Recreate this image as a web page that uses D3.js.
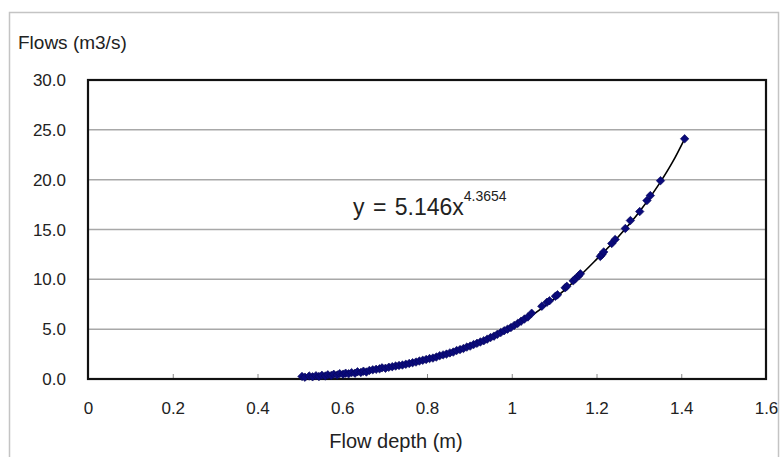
<!DOCTYPE html>
<html lang="en">
<head>
<meta charset="UTF-8">
<title>Flow depth vs flows</title>
<script src="https://d3js.org/d3.v7.min.js"></script>
<style>
  body { margin: 0; background: #fff; }
  text { font-family: "Liberation Sans", Arial, sans-serif; fill: #222; }
</style>
</head>
<body>
<div id="chart"></div>
<script>
// measured points: flow depth (m) and flow (m3/s)
const depth = [
  0.505, 0.512, 0.522, 0.530, 0.538, 0.545, 0.552, 0.560, 0.566, 0.574,
  0.580, 0.588, 0.594, 0.602, 0.608, 0.615, 0.622, 0.630, 0.636, 0.644,
  0.650, 0.657, 0.664, 0.672, 0.680, 0.688, 0.694, 0.702, 0.710, 0.718,
  0.726, 0.734, 0.742, 0.750, 0.758, 0.766, 0.774, 0.782, 0.790, 0.798,
  0.806, 0.814, 0.822, 0.830, 0.838, 0.846, 0.854, 0.862, 0.870, 0.878,
  0.886, 0.894, 0.902, 0.910, 0.918, 0.926, 0.934, 0.942, 0.950, 0.958,
  0.966, 0.974, 0.982, 0.990, 0.998, 1.006, 1.014, 1.022, 1.030, 1.038,
  1.047, 1.071, 1.083, 1.089, 1.103, 1.108, 1.126, 1.130, 1.145, 1.150,
  1.158, 1.162, 1.209, 1.213, 1.217, 1.236, 1.244, 1.268, 1.280, 1.302,
  1.319, 1.327, 1.351, 1.408
];
const flow = [
  0.26, 0.18, 0.30, 0.22, 0.33, 0.25, 0.37, 0.30, 0.42, 0.35,
  0.47, 0.40, 0.54, 0.48, 0.58, 0.52, 0.64, 0.58, 0.72, 0.66,
  0.78, 0.70, 0.86, 0.92, 0.97, 1.02, 1.12, 1.08, 1.18, 1.24,
  1.30, 1.36, 1.40, 1.48, 1.56, 1.63, 1.70, 1.80, 1.88, 1.96,
  2.05, 2.10, 2.20, 2.34, 2.42, 2.50, 2.62, 2.70, 2.86, 2.95,
  3.06, 3.20, 3.30, 3.46, 3.58, 3.72, 3.84, 4.00, 4.16, 4.30,
  4.48, 4.66, 4.84, 5.00, 5.16, 5.38, 5.58, 5.80, 6.02, 6.22,
  6.60, 7.30, 7.70, 7.85, 8.30, 8.45, 9.15, 9.30, 9.85, 10.05,
  10.35, 10.55, 12.30, 12.50, 12.75, 13.60, 14.00, 15.10, 15.90, 16.80,
  17.90, 18.40, 19.90, 24.10
];

// trendline
const trendX = [0.505, 0.6, 0.7, 0.8, 0.9, 1.0, 1.1, 1.15, 1.2, 1.25, 1.3, 1.35, 1.38, 1.408];
const trendY = [0.24, 0.58, 1.10, 1.95, 3.30, 5.15, 8.05, 9.90, 12.0, 14.2, 16.7, 19.7, 21.8, 24.1];

const xTicks = [0, 0.2, 0.4, 0.6, 0.8, 1, 1.2, 1.4, 1.6];
const yTicks = [0, 5, 10, 15, 20, 25, 30];

const W = 781, H = 457;
const plot = { left: 88, top: 80, right: 766, bottom: 379 };

const svg = d3.select("#chart").append("svg")
  .attr("width", W).attr("height", H);

// outer chart border
svg.append("rect")
  .attr("x", 9.5).attr("y", 12.5)
  .attr("width", 769).attr("height", 460)
  .attr("fill", "none").attr("stroke", "#c4c4c4").attr("stroke-width", 1.5);

const x = d3.scaleLinear().domain([0, 1.6]).range([plot.left, plot.right]);
const y = d3.scaleLinear().domain([0, 30]).range([plot.bottom, plot.top]);

// gridlines
svg.append("g").selectAll("line")
  .data(yTicks.slice(1, -1))
  .join("line")
  .attr("x1", plot.left).attr("x2", plot.right)
  .attr("y1", d => y(d)).attr("y2", d => y(d))
  .attr("stroke", "#a8a8a8").attr("stroke-width", 1.5);

// y tick labels
svg.append("g").selectAll("text")
  .data(yTicks)
  .join("text")
  .attr("x", 66).attr("y", d => y(d) + 6)
  .attr("text-anchor", "end")
  .attr("font-size", 17)
  .text(d => d.toFixed(1));

// x axis ticks (inside) + labels
const xAxis = d3.axisBottom(x).tickValues(xTicks).tickSize(-5).tickFormat(d3.format("~g"));
const gx = svg.append("g")
  .attr("transform", "translate(0," + plot.bottom + ")")
  .call(xAxis);
gx.select(".domain").remove();
gx.selectAll(".tick line").attr("stroke", "#888").attr("stroke-width", 1);
gx.selectAll(".tick text")
  .attr("y", 35).attr("dy", 0)
  .attr("font-size", 17)
  .attr("font-family", "Liberation Sans, Arial, sans-serif")
  .attr("fill", "#222");

// plot frame
svg.append("rect")
  .attr("x", plot.left).attr("y", plot.top)
  .attr("width", plot.right - plot.left).attr("height", plot.bottom - plot.top)
  .attr("fill", "none").attr("stroke", "#111").attr("stroke-width", 2.2);

// trend line
const trend = trendX.map((d, i) => ({ x: d, y: trendY[i] }));
svg.append("path")
  .datum(trend)
  .attr("fill", "none")
  .attr("stroke", "#000")
  .attr("stroke-width", 1.6)
  .attr("d", d3.line().x(d => x(d.x)).y(d => y(d.y)).curve(d3.curveMonotoneX));

// data markers (square turned 45 degrees)
const pts = depth.map((d, i) => ({ x: d, y: flow[i] }));
svg.append("g").selectAll("path")
  .data(pts)
  .join("path")
  .attr("transform", d => "translate(" + x(d.x) + "," + y(d.y) + ") rotate(45)")
  .attr("d", d3.symbol().type(d3.symbolSquare).size(36))
  .attr("fill", "#0a0a7a")
  .attr("stroke", "#06065a")
  .attr("stroke-width", 0.6);

// equation label
const eq = svg.append("text")
  .attr("x", 353).attr("y", 215)
  .attr("font-size", 23)
  .attr("word-spacing", 2);
eq.append("tspan").text("y = 5.146x");
eq.append("tspan").attr("font-size", 14).attr("dy", -14).text("4.3654");

// axis titles
svg.append("text")
  .attr("x", 18).attr("y", 49)
  .attr("font-size", 19)
  .text("Flows (m3/s)");

svg.append("text")
  .attr("x", 396).attr("y", 448)
  .attr("text-anchor", "middle")
  .attr("font-size", 20)
  .text("Flow depth (m)");
</script>
</body>
</html>
